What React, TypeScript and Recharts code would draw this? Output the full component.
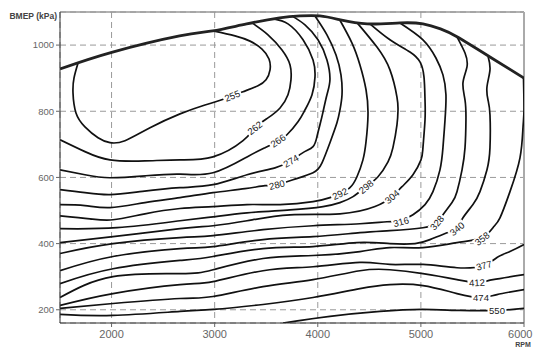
import React from "react";
import {
  ComposedChart,
  Line,
  Scatter,
  XAxis,
  YAxis,
  CartesianGrid,
  ReferenceLine,
} from "recharts";

const rpmTicks = [2000, 3000, 4000, 5000, 6000];
const bmepTicks = [200, 400, 600, 800, 1000];
const rpmRange = [1500, 6000];
const bmepRange = [160, 1100];

// pairs: [rpm, BMEP kPa]
const maxTorque = [[1500,928],[2010,979],[2660,1028],[2980,1043],[3310,1064],[3630,1082],[3830,1088],[4020,1088],[4220,1076],[4480,1064],[4800,1067],[5020,1064],[5190,1049],[5350,1025],[5670,964],[6000,900]];
const c255 = [[1675,946],[1636,901],[1626,856],[1655,795],[1742,753],[1869,720],[1985,705],[2130,711],[2373,750],[2664,792],[2906,819],[3061,834],[3275,859],[3420,877],[3498,895],[3537,925],[3527,958],[3459,988],[3343,1012],[3197,1028],[2984,1043]];
const c262 = [[1500,714],[1742,678],[1985,653],[2324,650],[2664,653],[2984,662],[3275,711],[3391,750],[3517,780],[3634,810],[3711,850],[3740,895],[3731,940],[3653,985],[3517,1031],[3362,1067]];
const c266 = [[1500,623],[1742,608],[1985,599],[2330,605],[2664,610],[2984,614],[3314,662],[3488,690],[3604,708],[3701,729],[3808,768],[3876,804],[3944,850],[3973,904],[3954,955],[3857,1016],[3711,1064],[3570,1079]];
const c274 = [[1500,563],[1742,554],[1985,548],[2300,558],[2664,569],[2984,578],[3314,608],[3585,629],[3740,650],[3857,675],[3954,693],[3992,723],[4021,759],[4051,798],[4089,850],[4118,895],[4089,955],[4002,1016],[3876,1061],[3760,1086]];
const c280 = [[1500,518],[1742,515],[1985,509],[2324,524],[2664,539],[2984,554],[3294,566],[3488,575],[3604,578],[3760,593],[3954,614],[4041,644],[4118,705],[4186,765],[4215,804],[4235,850],[4225,910],[4177,970],[4089,1031],[3973,1088]];
const c292 = [[1500,484],[1791,475],[2014,472],[2324,490],[2664,506],[2984,512],[3314,518],[3634,518],[3954,527],[4118,539],[4215,551],[4312,569],[4380,602],[4438,653],[4468,708],[4487,789],[4468,865],[4409,940],[4332,1006],[4215,1075]];
const c298 = [[1500,445],[2053,448],[2664,469],[2984,481],[3314,493],[3731,502],[4051,512],[4215,524],[4342,542],[4468,572],[4584,602],[4681,647],[4729,690],[4768,759],[4778,804],[4768,843],[4700,925],[4574,994],[4380,1068]];
const c304 = [[1500,403],[2014,421],[2664,445],[2984,454],[3314,469],[3731,487],[4215,490],[4555,512],[4720,542],[4817,572],[4923,608],[5001,653],[5020,690],[5040,774],[5040,834],[5030,904],[4991,949],[4894,979],[4700,1016],[4506,1064]];
const c316 = [[1500,370],[2014,400],[2664,418],[2984,424],[3469,442],[3954,454],[4409,460],[4671,466],[4797,469],[4923,487],[5040,518],[5117,557],[5185,623],[5214,690],[5234,774],[5243,850],[5214,910],[5146,961],[5020,1016],[4797,1067]];
const c328 = [[1500,318],[2014,361],[2664,385],[2984,391],[3469,412],[3954,421],[4409,433],[4700,439],[5020,448],[5156,463],[5214,487],[5302,524],[5350,557],[5399,623],[5428,690],[5437,774],[5428,834],[5408,886],[5447,934],[5428,976],[5350,1025]];
const c340 = [[1500,279],[2014,324],[2664,349],[2984,361],[3469,385],[3954,391],[4380,403],[4700,400],[4943,400],[5088,412],[5253,433],[5350,448],[5408,478],[5505,518],[5573,557],[5641,623],[5670,690],[5670,789],[5651,834],[5641,874],[5670,925],[5651,967]];
const c358 = [[1500,237],[2014,300],[2664,309],[2984,321],[3469,355],[3954,364],[4409,376],[4700,388],[5020,388],[5350,403],[5593,418],[5699,448],[5767,478],[5864,557],[5961,659],[5990,750],[6000,804],[5995,902]];
const c377 = [[1500,213],[2014,249],[2664,276],[2984,285],[3469,318],[3954,330],[4409,343],[4700,337],[5020,337],[5350,327],[5612,334],[5738,358],[5864,376],[6000,397]];
const c412 = [[1500,204],[2014,219],[2664,234],[2984,240],[3469,270],[3954,291],[4409,318],[4700,321],[5020,309],[5350,291],[5544,282],[5699,291],[6000,306]];
const c474 = [[1500,186],[2014,183],[2664,195],[2984,201],[3469,216],[3954,237],[4409,264],[4700,276],[5020,273],[5350,249],[5583,237],[5738,246],[6000,261]];
const c550 = [[3663,160],[4118,180],[4603,195],[5011,201],[5379,198],[5738,198],[6000,204]];

const contourLevels = ["255","262","266","274","280","292","298","304","316","328","340","358","377","412","474","550"];
const contourPaths = [c255,c262,c266,c274,c280,c292,c298,c304,c316,c328,c340,c358,c377,c412,c474,c550];

// label anchor points [rpm, bmep]
const labelPoints = [[3170,847],[3390,750],[3614,711],[3740,650],[3604,578],[4215,551],[4468,572],[4720,542],[4807,466],[5156,463],[5350,445],[5593,415],[5612,334],[5544,282],[5583,237],[5738,198]];

// style: rotation of each label text (degrees)
const labelAngle: Record<string, number> = {
  "255": -22, "262": -38, "266": -35, "274": -30, "280": -14, "292": -25,
  "298": -40, "304": -40, "316": -15, "328": -50, "340": -40, "358": -38,
  "377": -15, "412": -3, "474": 0, "550": 0,
};

const CHART_W = 534;

const toPts = (arr: number[][]) => arr.map(([rpm, bmep]) => ({ rpm, bmep }));
const labelData = labelPoints.map(([rpm, bmep], i) => ({ rpm, bmep, text: contourLevels[i] }));

const LabelShape = (props: any) => {
  const { cx, cy, payload } = props;
  if (cx == null || cy == null || !payload) return null;
  const t = String(payload.text);
  const w = t.length * 5.3 + 3;
  const a = labelAngle[t] ?? 0;
  return (
    <g transform={`translate(${cx},${cy}) rotate(${a})`}>
      <rect x={-w / 2} y={-4.5} width={w} height={9} fill="#ffffff" />
      <text x={0} y={0} textAnchor="middle" dominantBaseline="central" fontSize={9.5} fill="#1a1a1a">
        {t}
      </text>
    </g>
  );
};

const XTick = (props: any) => {
  const { x, y, payload } = props;
  const s = String(payload.value);
  const half = s.length * 11 * 0.556 / 2;
  const cx = Math.min(x, CHART_W - half - 1.5);
  return (
    <text x={cx} y={y} dy="0.71em" textAnchor="middle" fontSize={11} fill="#666">
      {s}
    </text>
  );
};

export default function App() {
  return (
    <div style={{ position: "absolute", left: 0, top: 0, width: 534, height: 347, background: "#fff", fontFamily: "'Liberation Sans', Arial, sans-serif" }}>
      <ComposedChart width={534} height={347} margin={{ top: 12, right: 10, bottom: 4, left: 0 }}>
        <CartesianGrid stroke="#9a9a9a" strokeDasharray="6 4" strokeWidth={1} />
        <XAxis
          type="number"
          dataKey="rpm"
          domain={rpmRange}
          ticks={rpmTicks}
          interval={0}
          allowDataOverflow
          height={20}
          tickSize={4}
          tickMargin={3}
          tick={<XTick />}
          axisLine={{ stroke: "#333" }}
          tickLine={{ stroke: "#666" }}
          label={{
            content: (p: any) => {
              const vb = p.viewBox || { x: 60, y: 323, width: 464 };
              return (
                <text x={vb.x + vb.width - 1} y={346.5} textAnchor="middle" fontSize={7} fontWeight="bold" fill="#444">RPM</text>
              );
            },
          }}
        />
        <YAxis
          type="number"
          dataKey="bmep"
          domain={bmepRange}
          ticks={bmepTicks}
          interval={0}
          allowDataOverflow
          width={60}
          tickSize={4}
          tickMargin={2}
          tick={{ fontSize: 9.5, fill: "#666" }}
          axisLine={{ stroke: "#333" }}
          tickLine={{ stroke: "#666" }}
          label={{
            content: (p: any) => {
              const vb = p.viewBox || { x: 0, y: 12, width: 60 };
              return (
                <text x={vb.x + vb.width - 3} y={vb.y + 4} textAnchor="end" dominantBaseline="central" fontSize={8.5} fontWeight="bold" fill="#444">BMEP (kPa)</text>
              );
            },
          }}
        />
        <ReferenceLine y={1100} stroke="#999" strokeWidth={1.5} />
        <ReferenceLine x={6000} stroke="#aaa" strokeWidth={2} />
        {contourPaths.map((pts, i) => (
          <Line
            key={contourLevels[i]}
            data={toPts(pts)}
            dataKey="bmep"
            type="natural"
            stroke="#111"
            strokeWidth={1.7}
            dot={false}
            activeDot={false}
            isAnimationActive={false}
          />
        ))}
        <Line
          data={toPts(maxTorque)}
          dataKey="bmep"
          type="natural"
          stroke="#222"
          strokeWidth={2.8}
          dot={false}
          activeDot={false}
          isAnimationActive={false}
        />
        <Scatter data={labelData} dataKey="bmep" shape={LabelShape} isAnimationActive={false} />
      </ComposedChart>
    </div>
  );
}
